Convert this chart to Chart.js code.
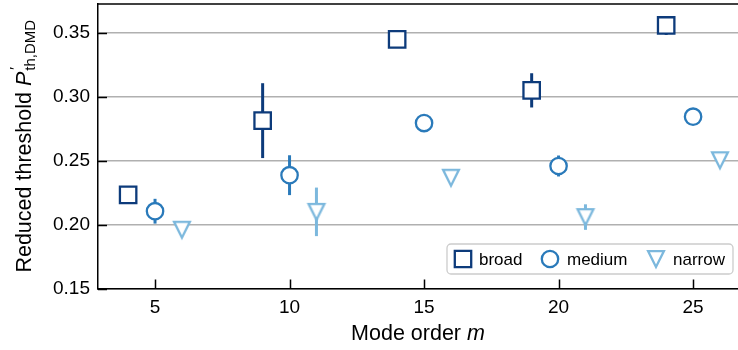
<!DOCTYPE html>
<html>
<head>
<meta charset="utf-8">
<script src="https://cdn.jsdelivr.net/npm/chart.js@4.4.1/dist/chart.umd.min.js"></script>
<style>
    html, body { margin: 0; padding: 0; background: #fff; }
    canvas { display: block; }
</style>
</head>
<body>
<canvas id="threshold-chart" width="738" height="350"></canvas>
<script>
// Mode order (x) and reduced threshold (y) per beam width, with symmetric error
const broadX = [4, 9, 14, 19, 24];
const broadY = [0.2233, 0.2814, 0.3450, 0.3051, 0.3559];
const broadErr = [0, 0.0293, 0, 0.0134, 0.0074];

const mediumX = [5, 10, 15, 20, 25];
const mediumY = [0.2105, 0.2387, 0.2795, 0.2459, 0.2845];
const mediumErr = [0.0097, 0.0156, 0, 0.0082, 0];

const narrowX = [6, 11, 16, 21, 26];
const narrowY = [0.1960, 0.2100, 0.2367, 0.2059, 0.2504];
const narrowErr = [0, 0.0190, 0, 0.0100, 0];

const seriesNames = ['broad', 'medium', 'narrow'];
const xTicks = [5, 10, 15, 20, 25];
const yTicks = [0.15, 0.20, 0.25, 0.30, 0.35];

const colors = {
    broad: '#0d3b7b',
    medium: '#2a7aba',
    narrow: '#7cb8dd'
};

const FONT = '"Liberation Sans", Arial, sans-serif';
const TICK_SIZE = 19;
const TITLE_SIZE = 21.5;
const SUB_SIZE = 15;

// Down-pointing triangle marker (matplotlib 'v' style, width == height)
function makeTriangle(color) {
    const c = document.createElement('canvas');
    c.width = 26;
    c.height = 26;
    const ctx = c.getContext('2d');
    const m = 13, h = 7.9;
    ctx.beginPath();
    ctx.moveTo(m - h, m - h);
    ctx.lineTo(m + h, m - h);
    ctx.lineTo(m, m + h);
    ctx.closePath();
    ctx.fillStyle = '#fff';
    ctx.fill();
    ctx.lineWidth = 2.3;
    ctx.strokeStyle = color;
    ctx.stroke();
    return c;
}
const triangleMarker = makeTriangle(colors.narrow);

function toPoints(xs, ys) {
    return xs.map((x, i) => ({ x: x, y: ys[i] }));
}

const errors = [broadErr, mediumErr, narrowErr];

// Vertical error bars, drawn underneath the markers
const errorBarPlugin = {
    id: 'errorBars',
    beforeDatasetsDraw(chart) {
        const ctx = chart.ctx;
        const xs = chart.scales.x;
        const ys = chart.scales.y;
        chart.data.datasets.forEach((ds, i) => {
            ctx.save();
            ctx.strokeStyle = ds.pointBorderColor;
            ctx.lineWidth = 3;
            ds.data.forEach((p, j) => {
                const e = errors[i][j];
                if (!e) return;
                const px = xs.getPixelForValue(p.x);
                ctx.beginPath();
                ctx.moveTo(px, ys.getPixelForValue(p.y - e));
                ctx.lineTo(px, ys.getPixelForValue(p.y + e));
                ctx.stroke();
            });
            ctx.restore();
        });
    }
};

// Inward ticks, top spine, axis titles and the legend box
const decorPlugin = {
    id: 'decor',
    afterDraw(chart) {
        const ctx = chart.ctx;
        const area = chart.chartArea;
        const xs = chart.scales.x;
        const ys = chart.scales.y;

        ctx.save();
        ctx.strokeStyle = '#000';
        ctx.lineWidth = 1.5;
        ctx.beginPath();
        xTicks.forEach(v => {
            const px = Math.round(xs.getPixelForValue(v)) + 0.5;
            ctx.moveTo(px, area.bottom);
            ctx.lineTo(px, area.bottom - 9);
        });
        yTicks.forEach(v => {
            const py = Math.round(ys.getPixelForValue(v)) + 0.5;
            ctx.moveTo(area.left, py);
            ctx.lineTo(area.left + 9, py);
        });
        ctx.stroke();

        // top spine
        ctx.beginPath();
        ctx.moveTo(area.left, area.top);
        ctx.lineTo(area.right, area.top);
        ctx.stroke();

        // x title
        ctx.fillStyle = '#000';
        ctx.textBaseline = 'alphabetic';
        ctx.textAlign = 'left';
        const xMain = 'Mode order ';
        ctx.font = 'italic ' + TITLE_SIZE + 'px ' + FONT;
        const mW = ctx.measureText('m').width;
        ctx.font = TITLE_SIZE + 'px ' + FONT;
        const xMainW = ctx.measureText(xMain).width;
        const tx = (area.left + area.right) / 2 - (xMainW + mW) / 2;
        ctx.fillText(xMain, tx, 340);
        ctx.font = 'italic ' + TITLE_SIZE + 'px ' + FONT;
        ctx.fillText('m', tx + xMainW, 340);

        // y title (rotated): Reduced threshold P'_{th,DMD}
        ctx.save();
        ctx.translate(31, (area.top + area.bottom) / 2);
        ctx.rotate(-Math.PI / 2);
        const yMain = 'Reduced threshold ';
        ctx.font = TITLE_SIZE + 'px ' + FONT;
        const yMainW = ctx.measureText(yMain).width;
        ctx.font = 'italic ' + TITLE_SIZE + 'px ' + FONT;
        const pW = ctx.measureText('P').width;
        ctx.font = SUB_SIZE + 'px ' + FONT;
        const subW = ctx.measureText('th,DMD').width;
        const total = yMainW + pW + subW + 1;
        let ty = -total / 2;
        ctx.font = TITLE_SIZE + 'px ' + FONT;
        ctx.fillText(yMain, ty, 0);
        ty += yMainW;
        ctx.font = 'italic ' + TITLE_SIZE + 'px ' + FONT;
        ctx.fillText('P', ty, 0);
        ty += pW + 1;
        ctx.font = SUB_SIZE + 'px ' + FONT;
        ctx.fillText('\u2032', ty + 1, -11);
        ctx.fillText('th,DMD', ty, 4);
        ctx.restore();

        // legend
        const bx = 447, by = 244, bw = 286, bh = 30;
        ctx.beginPath();
        ctx.roundRect(bx, by, bw, bh, 4);
        ctx.fillStyle = 'rgba(255,255,255,0.85)';
        ctx.fill();
        ctx.strokeStyle = '#cccccc';
        ctx.lineWidth = 1.3;
        ctx.stroke();

        const cy = by + bh / 2;
        const itemX = [463, 550, 656];
        const labelX = [479, 567, 673];
        ctx.lineWidth = 2.3;
        // square
        ctx.strokeStyle = colors.broad;
        ctx.fillStyle = '#fff';
        ctx.beginPath();
        ctx.rect(itemX[0] - 8.2, cy - 8.2, 16.4, 16.4);
        ctx.fill();
        ctx.stroke();
        // circle
        ctx.strokeStyle = colors.medium;
        ctx.beginPath();
        ctx.arc(itemX[1], cy, 8.2, 0, Math.PI * 2);
        ctx.fill();
        ctx.stroke();
        // triangle
        ctx.drawImage(triangleMarker, itemX[2] - 13, cy - 13);

        ctx.fillStyle = '#000';
        ctx.font = '17px ' + FONT;
        ctx.textBaseline = 'middle';
        seriesNames.forEach((name, i) => ctx.fillText(name, labelX[i], cy + 1));
        ctx.restore();
    }
};

const canvas = document.getElementById('threshold-chart');
new Chart(canvas, {
    type: 'scatter',
    data: {
        datasets: [
            {
                label: seriesNames[0],
                data: toPoints(broadX, broadY),
                pointStyle: 'rect',
                pointRadius: 11.6,
                pointBorderWidth: 2.3,
                pointBorderColor: colors.broad,
                pointBackgroundColor: '#fff'
            },
            {
                label: seriesNames[1],
                data: toPoints(mediumX, mediumY),
                pointStyle: 'circle',
                pointRadius: 8.2,
                pointBorderWidth: 2.3,
                pointBorderColor: colors.medium,
                pointBackgroundColor: '#fff'
            },
            {
                label: seriesNames[2],
                data: toPoints(narrowX, narrowY),
                pointStyle: triangleMarker,
                pointRadius: 10,
                pointBorderColor: colors.narrow,
                pointBackgroundColor: '#fff'
            }
        ]
    },
    options: {
        responsive: false,
        animation: false,
        events: [],
        layout: {
            autoPadding: false,
            padding: { top: 4, left: 0, right: 0, bottom: 0 }
        },
        plugins: {
            legend: { display: false },
            tooltip: { enabled: false }
        },
        scales: {
            x: {
                type: 'linear',
                min: 2.88,
                max: 26.67,
                afterFit: scale => {
                    scale.height = 61.5;
                    scale.paddingLeft = 0;
                    scale.paddingRight = 0;
                },
                afterBuildTicks: scale => { scale.ticks = xTicks.map(v => ({ value: v })); },
                grid: { display: false, drawTicks: false },
                border: { display: true, color: '#000', width: 1.5 },
                ticks: {
                    padding: 8,
                    color: '#000',
                    font: { family: FONT, size: TICK_SIZE },
                    maxRotation: 0
                }
            },
            y: {
                type: 'linear',
                min: 0.15,
                max: 0.3727,
                afterFit: scale => {
                    scale.width = 98;
                    scale.paddingTop = 0;
                    scale.paddingBottom = 0;
                },
                afterBuildTicks: scale => { scale.ticks = yTicks.map(v => ({ value: v })); },
                grid: { color: '#b0b0b0', lineWidth: 1.6, drawTicks: false },
                border: { display: true, color: '#000', width: 1.5 },
                ticks: {
                    padding: 8,
                    color: '#000',
                    font: { family: FONT, size: TICK_SIZE },
                    callback: value => value.toFixed(2)
                }
            }
        }
    },
    plugins: [errorBarPlugin, decorPlugin]
});
</script>
</body>
</html>
